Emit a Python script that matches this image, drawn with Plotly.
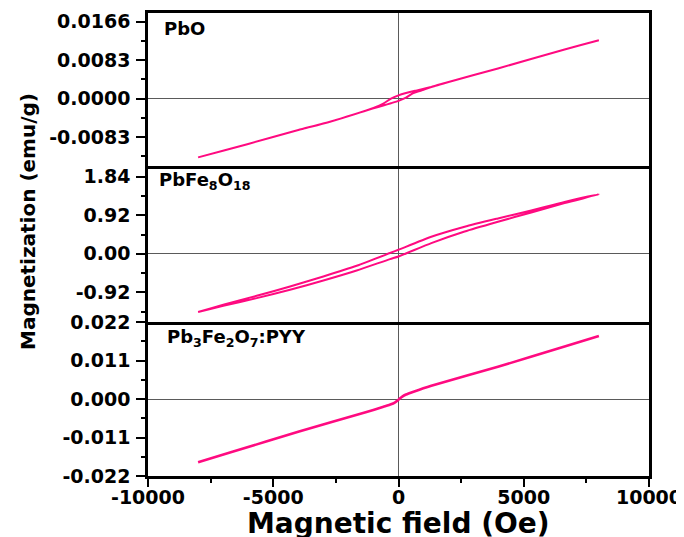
import plotly.graph_objects as go

# ---------------- data ----------------
# PbO (top panel)
pbo_h_down = [8000, 6630, 3970, 2000, 1310, 665, 300, 0, -300, -607, -1000, -2735, -4000, -6000, -8000]
pbo_m_down = [0.0126, 0.0106, 0.0065, 0.0036, 0.0025, 0.0017, 0.0012, 0.0007, 0.0000, -0.0011, -0.0020,
              -0.0050, -0.0068, -0.0098, -0.0127]
pbo_h_up = [-8000, -6000, -4000, -2735, -1000, -607, -300, 0, 300, 590, 1000, 1310, 2000, 3970, 6630, 8000]
pbo_m_up = [-0.0127, -0.0098, -0.0068, -0.0050, -0.0021, -0.0015, -0.0010, -0.0005, 0.0002, 0.0012, 0.0019,
            0.0025, 0.0036, 0.0065, 0.0106, 0.0126]

# PbFe8O18 (middle panel)
fe_h_down = [8000, 6630, 5300, 3970, 2640, 1310, 0, -340, -1670, -3000, -4330, -5660, -6995, -8000]
fe_m_down = [1.42, 1.24, 1.035, 0.844, 0.645, 0.406, 0.096, 0.017, -0.287, -0.542, -0.781, -1.004, -1.219, -1.39]
fe_h_up = [-8000, -6995, -5660, -4330, -3000, -1670, -340, 0, 1310, 2640, 3970, 5300, 6630, 8000]
fe_m_up = [-1.39, -1.243, -1.059, -0.860, -0.638, -0.399, -0.127, -0.064, 0.255, 0.533, 0.765, 0.987, 1.21, 1.42]

# Pb3Fe2O7:PYY (bottom panel)
pyy_h = [-8000, -6630, -3970, -1310, -600, -300, -150, 0, 150, 300, 600, 1310, 3970, 6630, 8000]
pyy_m = [-0.0181, -0.0151, -0.0093, -0.0038, -0.0022, -0.0015, -0.0010, -0.0002, 0.0007, 0.0013, 0.0021,
         0.0038, 0.0092, 0.0150, 0.0180]

# tick labels
x_ticks = [-10000, -5000, 0, 5000, 10000]
x_ticktext = ["-10000", "-5000", "0", "5000", "10000"]
x_minor = [-7500, -2500, 2500, 7500]

top_ticks = [-0.0083, 0.0, 0.0083, 0.0166]
top_ticktext = ["-0.0083", "0.0000", "0.0083", "0.0166"]
top_minor = [-0.01245, -0.00415, 0.00415, 0.01245]

mid_ticks = [-0.92, 0.0, 0.92, 1.84]
mid_ticktext = ["-0.92", "0.00", "0.92", "1.84"]
mid_minor = [-1.38, -0.46, 0.46, 1.38]

bot_ticks = [-0.022, -0.011, 0.0, 0.011, 0.022]
bot_ticktext = ["-0.022", "-0.011", "0.000", "0.011", "0.022"]
bot_minor = [-0.0165, -0.0055, 0.0055, 0.0165]

labels = ["PbO", "PbFe<sub>8</sub>O<sub>18</sub>", "Pb<sub>3</sub>Fe<sub>2</sub>O<sub>7</sub>:PYY"]

# ---------------- styling ----------------
COLOR = "#ff0a80"
FONT = "DejaVu Sans"
LW = 2.5

fig = go.Figure()
fig.add_trace(go.Scatter(x=pbo_h_down + pbo_h_up, y=pbo_m_down + pbo_m_up, mode="lines",
                         line=dict(color=COLOR, width=2, shape="spline", smoothing=0.5),
                         xaxis="x3", yaxis="y3", showlegend=False))
fig.add_trace(go.Scatter(x=fe_h_down + fe_h_up, y=fe_m_down + fe_m_up, mode="lines",
                         line=dict(color=COLOR, width=2, shape="spline", smoothing=0.6),
                         xaxis="x2", yaxis="y2", showlegend=False))
fig.add_trace(go.Scatter(x=pyy_h, y=pyy_m, mode="lines",
                         line=dict(color=COLOR, width=2.6, shape="spline", smoothing=0.5),
                         xaxis="x", yaxis="y", showlegend=False))

tickfont = dict(family=FONT, size=19, color="black", weight="bold")

def xax(anchor, show, mirror):
    d = dict(range=[-10000, 10000], domain=[0, 1], anchor=anchor, automargin=False,
             showline=True, linecolor="black", linewidth=LW, mirror=mirror,
             showgrid=False, zeroline=True, zerolinecolor="#5a5a5a", zerolinewidth=1.3)
    if show:
        d.update(tickmode="array", tickvals=x_ticks, ticktext=x_ticktext, ticks="outside",
                 ticklen=8, tickwidth=2, tickcolor="black", tickfont=tickfont,
                 ticklabelstandoff=-6,
                 minor=dict(tickmode="array", tickvals=x_minor, ticks="outside", ticklen=4,
                            tickwidth=2, tickcolor="black"))
    else:
        d.update(ticks="", showticklabels=False, matches="x")
    return d

def yax(anchor, domain, rng, tv, tt, mv):
    return dict(domain=domain, range=rng, anchor=anchor, automargin=False,
                showline=True, linecolor="black", linewidth=LW, mirror=True,
                showgrid=False, zeroline=True, zerolinecolor="#5a5a5a", zerolinewidth=1.3,
                tickmode="array", tickvals=tv, ticktext=tt, ticks="outside",
                ticklen=9, tickwidth=2, tickcolor="black", tickfont=tickfont,
                ticklabelstandoff=2,
                minor=dict(tickmode="array", tickvals=mv, ticks="outside", ticklen=4,
                           tickwidth=2, tickcolor="black"))

# the page adds an 8 px body margin, so the margins are offset by 8 px
fig.update_layout(
    template="none",
    width=684, height=537,
    margin=dict(l=140, r=43, t=5, b=69, autoexpand=False),
    paper_bgcolor="white", plot_bgcolor="white",
    xaxis=xax("y", True, False),
    xaxis2=xax("y2", False, False),
    xaxis3=xax("y3", False, True),
    yaxis=yax("x", [0, 0.3326], [-0.022, 0.022], bot_ticks, bot_ticktext, bot_minor),
    yaxis2=yax("x2", [0.3326, 0.6685], [-1.63, 2.085], mid_ticks, mid_ticktext, mid_minor),
    yaxis3=yax("x3", [0.6685, 1.0], [-0.01467, 0.01849], top_ticks, top_ticktext, top_minor),
)

label_pos = [(0.028, 0.9676), (0.018, 0.637), (0.034, 0.298)]
annots = []
for txt, (ax_, ay_) in zip(labels, label_pos):
    annots.append(dict(text=txt, x=ax_, y=ay_, xref="paper", yref="paper", xanchor="left",
                       yanchor="middle", showarrow=False,
                       font=dict(family=FONT, size=18, color="black", weight="bold")))
annots.append(dict(text="Magnetic field (Oe)", x=0.5, y=-0.062, xref="paper", yref="paper",
                   xanchor="center", yanchor="top", showarrow=False,
                   font=dict(family=FONT, size=28, color="black", weight="bold")))
annots.append(dict(text="Magnetization (emu/g)", x=-0.2395, y=0.5486, xref="paper", yref="paper",
                   xanchor="center", yanchor="middle", textangle=-90, showarrow=False,
                   font=dict(family=FONT, size=20, color="black", weight="bold")))
fig.update_layout(annotations=annots)

fig.write_html("out.html")
